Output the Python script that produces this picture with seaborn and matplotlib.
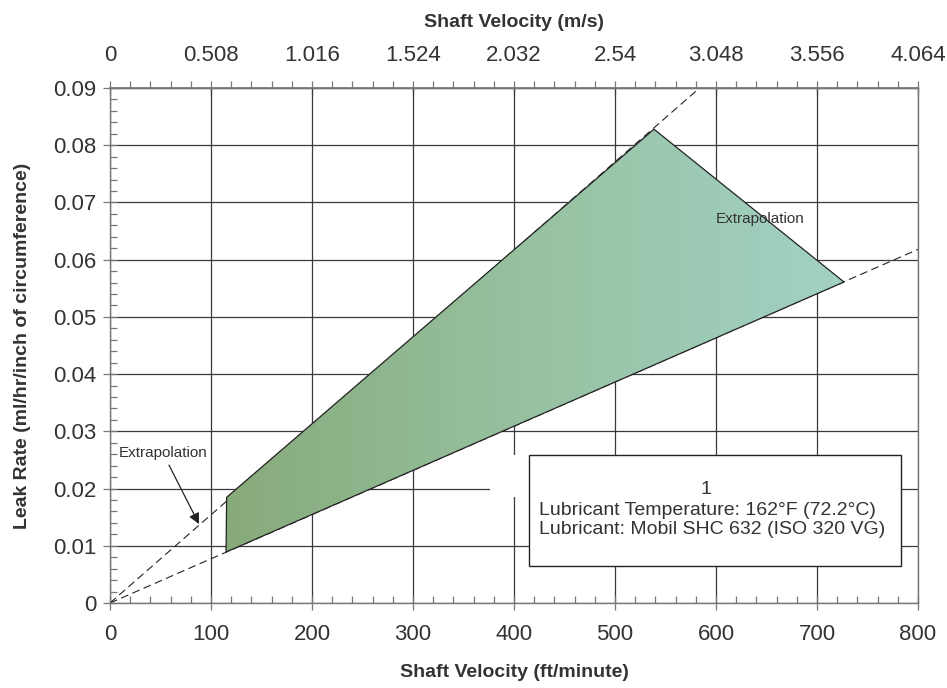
import numpy as np
import pandas as pd
import matplotlib
matplotlib.use("Agg")
import matplotlib.pyplot as plt
from matplotlib.patches import Polygon, Rectangle
from matplotlib.colors import LinearSegmentedColormap
import seaborn as sns

# ================== 数据 ==================
# 泄漏区域多边形顶点 (ft/min, ml/hr/inch)
band_x = [115.5, 538.6, 726.7, 114.9]
band_y = [0.01847, 0.0828, 0.0561, 0.0089]

# 外推虚线（从原点出发）
upper_x = [0, 583.7]
upper_y = [0, 0.09]
lower_x = [0, 800]
lower_y = [0, 0.0618]

x_ticks = [0, 100, 200, 300, 400, 500, 600, 700, 800]
y_ticks = [0, 0.01, 0.02, 0.03, 0.04, 0.05, 0.06, 0.07, 0.08, 0.09]
y_tick_labels = ["0", "0.01", "0.02", "0.03", "0.04", "0.05", "0.06", "0.07", "0.08", "0.09"]
top_ticks = [0, 0.508, 1.016, 1.524, 2.032, 2.54, 3.048, 3.556, 4.064]
top_tick_labels = ["0", "0.508", "1.016", "1.524", "2.032", "2.54", "3.048", "3.556", "4.064"]

legend_lines = ["1",
                "Lubricant Temperature: 162°F (72.2°C)",
                "Lubricant: Mobil SHC 632 (ISO 320 VG)"]

sns.set_theme(style="ticks")
plt.rcParams['font.family'] = ['Liberation Sans', 'DejaVu Sans']

TXT = "#333333"
GRID = "#3a3a3a"
SPINE = "#777777"

fig = plt.figure(figsize=(9.47, 6.88), dpi=100)
ax = fig.add_axes([110 / 947, 1 - 603 / 688, 808 / 947, 515 / 688])

# 网格
ax.set_axisbelow(True)
ax.grid(True, which="major", color=GRID, linewidth=0.9)

# 外推虚线
lines = pd.DataFrame({
    "x": upper_x + lower_x,
    "y": upper_y + lower_y,
    "line": ["upper"] * 2 + ["lower"] * 2,
})
sns.lineplot(data=lines, x="x", y="y", units="line", estimator=None,
             color="#222222", linewidth=0.8, dashes=False, ax=ax)
for ln in ax.get_lines():
    ln.set_dashes((7, 4))
    ln.set_zorder(2.5)

# 渐变填充区域
poly = Polygon(list(zip(band_x, band_y)), closed=True, facecolor="none",
               edgecolor="#222222", linewidth=0.9, zorder=5)
ax.add_patch(poly)
cmap = LinearSegmentedColormap.from_list("band", ["#87aa7b", "#97c2a1", "#a2d1c5"])
grad = np.linspace(0, 1, 256).reshape(1, -1)
im = ax.imshow(grad, cmap=cmap, aspect="auto",
               extent=[min(band_x), max(band_x), min(band_y), max(band_y)],
               origin="lower", zorder=4)
im.set_clip_path(poly)

# 图例说明框
ax.add_patch(Rectangle((376, 0.0185), 40, 0.0074, facecolor="white",
                       edgecolor="none", zorder=6))
ax.add_patch(Rectangle((414.9, 0.00647), 368.3, 0.0194, facecolor="white",
                       edgecolor="#222222", linewidth=1.0, zorder=6))
ax.text(590.5, 0.0199, legend_lines[0], ha="center", va="center",
        fontsize=14, color=TXT, zorder=7)
ax.text(424.5, 0.0161, legend_lines[1], ha="left", va="center",
        fontsize=14, color=TXT, zorder=7)
ax.text(424.5, 0.0129, legend_lines[2], ha="left", va="center",
        fontsize=14, color=TXT, zorder=7)

# 外推标注
ax.text(53, 0.0262, "Extrapolation", ha="center", va="center",
        fontsize=11, color=TXT, zorder=7)
ax.text(644, 0.0671, "Extrapolation", ha="center", va="center",
        fontsize=11, color=TXT, zorder=7)
ax.annotate("", xy=(88.1, 0.0138), xytext=(58.4, 0.0241),
            arrowprops=dict(arrowstyle="-|>", color="#222222", lw=0.9,
                            mutation_scale=16, shrinkA=0, shrinkB=0),
            zorder=7)

# 坐标轴
ax.set_xlim(0, 800)
ax.set_ylim(0, 0.09)
ax.set_xticks(x_ticks)
ax.set_xticklabels([str(v) for v in x_ticks])
ax.set_yticks(y_ticks)
ax.set_yticklabels(y_tick_labels)
ax.set_xticks(np.arange(0, 801, 20), minor=True)
ax.set_yticks(np.arange(0, 0.0901, 0.002), minor=True)
ax.tick_params(which="major", direction="inout", length=10, width=0.9,
               color=SPINE, labelsize=16, labelcolor=TXT)
ax.tick_params(axis="x", which="major", pad=10)
ax.tick_params(axis="y", which="major", pad=5)
ax.tick_params(which="minor", direction="in", length=5, width=0.9, color=SPINE)
ax.tick_params(axis="x", which="both", top=False)
ax.tick_params(axis="y", which="both", right=False)
for s in ax.spines.values():
    s.set_color(SPINE)
    s.set_linewidth(1.0)
    s.set_visible(True)

ax.set_xlabel("Shaft Velocity (ft/minute)", fontsize=14, fontweight="bold",
              color=TXT, labelpad=14)
ax.set_ylabel("Leak Rate (ml/hr/inch of circumference)", fontsize=14,
              fontweight="bold", color=TXT, labelpad=16)

# 顶部 m/s 坐标
top = ax.secondary_xaxis("top", functions=(lambda v: v * 0.00508,
                                           lambda v: v / 0.00508))
top.set_xticks(top_ticks)
top.set_xticklabels(top_tick_labels)
top.set_xticks(np.arange(0, 4.07, 0.1016), minor=True)
top.tick_params(which="major", direction="inout", length=10, width=0.9,
                color=SPINE, labelsize=16, labelcolor=TXT, pad=11)
top.tick_params(which="minor", direction="out", length=5, width=0.9, color=SPINE)
top.spines["top"].set_color(SPINE)
top.set_xlabel("Shaft Velocity (m/s)", fontsize=14, fontweight="bold",
               color=TXT, labelpad=13)

fig.savefig("out.png", dpi=100)
